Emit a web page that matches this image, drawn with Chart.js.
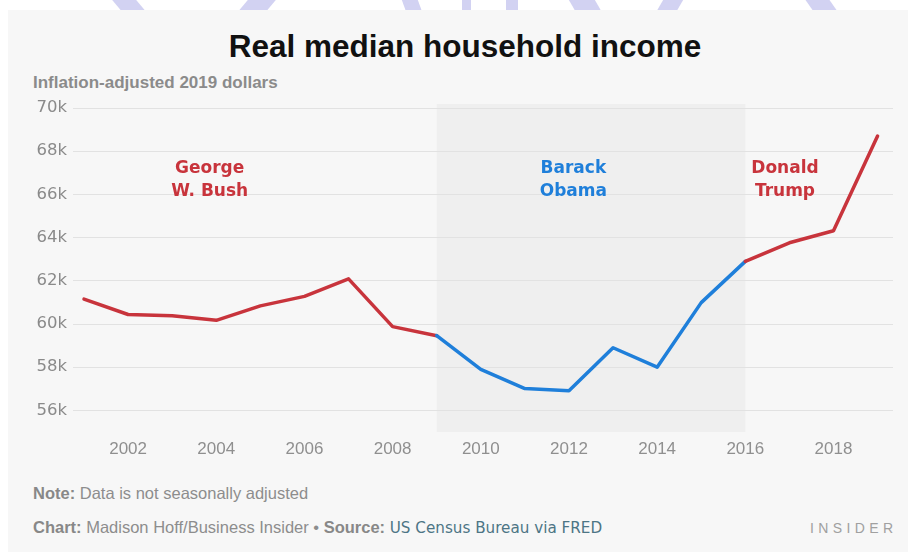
<!DOCTYPE html>
<html>
<head>
<meta charset="utf-8">
<title>Real median household income</title>
<script src="https://cdn.jsdelivr.net/npm/chart.js@4"></script>
<style>
  html, body { margin: 0; padding: 0; background: #fff; }
  body { width: 908px; height: 552px; position: relative; overflow: hidden; font-family: "Liberation Sans", Arial, sans-serif; }
  .mark { position: absolute; top: -20px; height: 30px; background: #d2d2f2; }
  #panel { position: absolute; left: 8px; top: 10px; width: 900px; height: 542px; background: #f7f7f7; }
  #title { position: absolute; left: 11px; width: 908px; top: 28px; text-align: center; font-weight: bold; font-size: 31.5px; color: #111; }
  #subtitle { position: absolute; left: 33px; top: 73px; font-weight: bold; font-size: 17px; color: #8b8b8b; }
  #note { position: absolute; left: 33px; top: 484px; font-size: 16.5px; color: #8d8d8d; }
  #credit { position: absolute; left: 33px; top: 518px; font-size: 16.5px; color: #8d8d8d; }
  #credit b, #note b { color: #888; }
  #credit .src { font-family: "DejaVu Sans", sans-serif; font-size: 15.2px; color: #4d7585; }
  #brand { position: absolute; left: 810px; top: 520px; font-size: 14px; letter-spacing: 4.4px; color: #a0a0a0; }
  canvas { position: absolute; left: 0; top: 0; }
</style>
</head>
<body>
<div class="mark" style="left:108px;width:24px;transform:skewX(40deg)"></div>
<div class="mark" style="left:252px;width:28px;transform:skewX(-40deg)"></div>
<div class="mark" style="left:400px;width:16px;transform:skewX(20deg)"></div>
<div class="mark" style="left:462px;width:9px"></div>
<div class="mark" style="left:506px;width:12px"></div>
<div class="mark" style="left:566px;width:26px;transform:skewX(30deg)"></div>
<div class="mark" style="left:666px;width:20px;transform:skewX(-30deg)"></div>
<div class="mark" style="left:802px;width:24px;transform:skewX(35deg)"></div>
<div id="panel"></div>
<div id="title">Real median household income</div>
<div id="subtitle">Inflation-adjusted 2019 dollars</div>
<div id="note"><b>Note:</b> Data is not seasonally adjusted</div>
<div id="credit"><b>Chart:</b> Madison Hoff/Business Insider &bull; <b>Source:</b> <span class="src">US Census Bureau via FRED</span></div>
<div id="brand">INSIDER</div>
<canvas id="incomeChart" width="908" height="552"></canvas>
<script>
// annual real median household income, 2019 dollars
const years = [2001, 2002, 2003, 2004, 2005, 2006, 2007, 2008, 2009, 2010,
               2011, 2012, 2013, 2014, 2015, 2016, 2017, 2018, 2019];
const income = [61150, 60440, 60380, 60170, 60840, 61280, 62090, 59880, 59460, 57900,
                57010, 56910, 58900, 58000, 60990, 62900, 63760, 64320, 68700];

const yTicks = [56000, 58000, 60000, 62000, 64000, 66000, 68000, 70000];
const xTicks = [2002, 2004, 2006, 2008, 2010, 2012, 2014, 2016, 2018];

// Obama years get the blue line and the grey band
const obamaStart = 2009;
const obamaEnd = 2016;

const RED = '#c8343c';
const BLUE = '#1f7fda';

const presidents = [
  { lines: ['George', 'W. Bush'], year: 2003.85, color: RED },
  { lines: ['Barack', 'Obama'], year: 2012.1, color: BLUE },
  { lines: ['Donald', 'Trump'], year: 2016.9, color: RED }
];

const termPlugin = {
  id: 'terms',
  beforeDraw(chart) {
    const { ctx, chartArea, scales } = chart;
    const x0 = scales.x.getPixelForValue(obamaStart);
    const x1 = scales.x.getPixelForValue(obamaEnd);
    ctx.save();
    ctx.fillStyle = '#efefef';
    ctx.fillRect(x0, chartArea.top - 4, x1 - x0, chartArea.bottom - chartArea.top + 4);
    ctx.restore();
  },
  afterDatasetsDraw(chart) {
    const { ctx, scales } = chart;
    const yTop = scales.y.getPixelForValue(67200);
    ctx.save();
    ctx.font = 'bold 17px "DejaVu Sans", sans-serif';
    ctx.textAlign = 'center';
    ctx.textBaseline = 'middle';
    presidents.forEach(p => {
      ctx.fillStyle = p.color;
      const x = scales.x.getPixelForValue(p.year);
      p.lines.forEach((line, i) => ctx.fillText(line, x, yTop + i * 23));
    });
    ctx.restore();
  }
};

new Chart(document.getElementById('incomeChart'), {
  type: 'line',
  data: {
    datasets: [{
      data: years.map((y, i) => ({ x: y, y: income[i] })),
      borderColor: RED,
      borderWidth: 3.5,
      borderJoinStyle: 'round',
      borderCapStyle: 'round',
      pointRadius: 0,
      tension: 0,
      segment: {
        borderColor: ctx => (ctx.p0.parsed.x >= obamaStart && ctx.p1.parsed.x <= obamaEnd) ? BLUE : RED
      }
    }]
  },
  options: {
    responsive: false,
    animation: false,
    layout: { padding: { top: 108, right: 15, bottom: 79, left: 0 } },
    plugins: {
      legend: { display: false },
      tooltip: { enabled: false }
    },
    scales: {
      x: {
        type: 'linear',
        min: 2000.75,
        max: 2019.35,
        afterBuildTicks: scale => { scale.ticks = xTicks.map(v => ({ value: v })); },
        afterFit: scale => { scale.height = 41; },
        grid: { display: false, drawTicks: false },
        border: { display: false },
        ticks: {
          padding: 7,
          color: '#8f8f8f',
          font: { family: '"Liberation Sans", Arial, sans-serif', size: 17 },
          callback: v => String(v)
        }
      },
      y: {
        min: 55000,
        max: 70000,
        afterBuildTicks: scale => { scale.ticks = yTicks.map(v => ({ value: v })); },
        afterFit: scale => { scale.width = 73; },
        grid: { color: '#e2e2e2', lineWidth: 1, drawTicks: false },
        border: { display: false },
        ticks: {
          padding: 6,
          color: '#8a8a8a',
          font: { family: '"DejaVu Sans", sans-serif', size: 16.5 },
          callback: v => (v / 1000) + 'k'
        }
      }
    }
  },
  plugins: [termPlugin]
});
</script>
</body>
</html>
